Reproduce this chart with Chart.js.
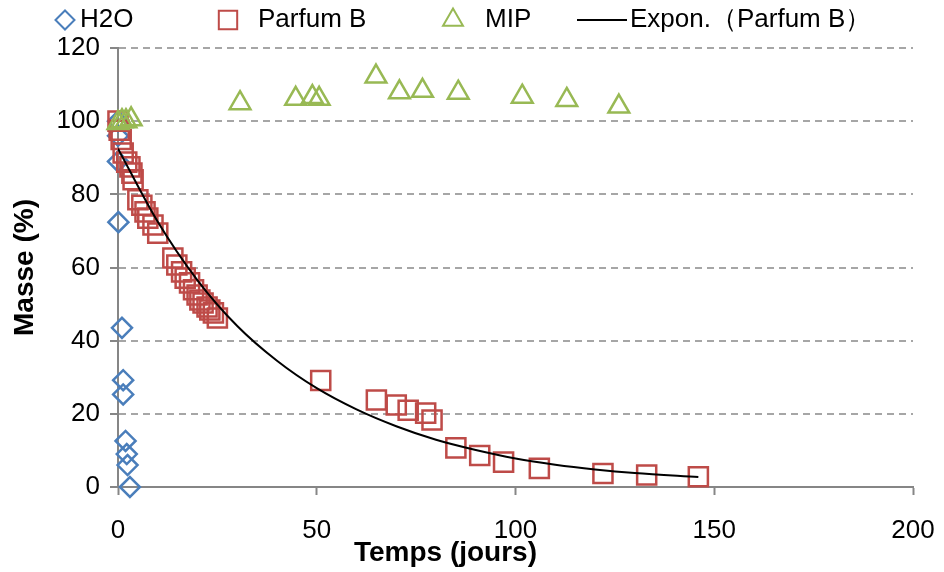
<!DOCTYPE html>
<html>
<head>
<meta charset="utf-8">
<script src="https://cdn.jsdelivr.net/npm/chart.js@4.4.1/dist/chart.umd.min.js"></script>
<style>
  html, body { margin: 0; padding: 0; background: #fff; }
  #wrap { width: 944px; height: 572px; }
</style>
</head>
<body>
<div id="wrap"><canvas id="c" width="944" height="572"></canvas></div>
<script>
// values (days, % of mass)
const h2oX = [0, 0, 0, 0.1, 1, 1.3, 1.3, 1.9, 2.2, 2.4, 3];
const h2oY = [100, 96, 89, 72.4, 43.5, 29.2, 25.3, 12.6, 9.0, 6.0, 0];

const parfumX = [0, 0.3, 0.8, 1.3, 2.2, 3, 3.5, 3.8, 5, 6, 6.8, 7.5, 8.8, 10,
  13.8, 14.8, 16, 16.9, 18, 19, 19.9, 20.6, 21.4, 22.4, 23.1, 24, 25,
  51, 65, 70, 73, 77.4, 79, 85, 91, 97, 106, 122, 133, 146];
const parfumY = [100, 97.5, 95, 91.3, 88.8, 87.5, 85.8, 84, 78.5, 77, 75.2, 73.5, 71.6, 69.4,
  62.6, 60.7, 58.8, 57.1, 55.8, 53.9, 52.5, 51.1, 50.3, 49.2, 48.4, 47.6, 46.2,
  29.1, 23.8, 22.4, 21, 20.2, 18.3, 10.7, 8.6, 6.8, 5.1, 3.7, 3.3, 2.8];

const mipX = [0, 1, 2, 3.3, 30.7, 44.7, 48.9, 50.6, 64.9, 70.8, 76.6, 85.6, 101.7, 112.9, 126];
const mipY = [99.5, 100, 100, 100.5, 104.9, 106.1, 106.6, 106.1, 112.2, 107.9, 108.3, 107.8, 106.7, 105.8, 104];

// exponential trendline of Parfum B, read at a few points
const trendX = [0, 10, 20, 30, 40, 50, 60, 70, 80, 90, 100, 110, 120, 130, 146];
const trendY = [92.5, 72.5, 56.5, 44, 34.5, 27, 21.2, 16.6, 12.9, 10.1, 7.8, 6.1, 4.8, 3.8, 2.7];

const labels = ['H2O', 'Parfum B', 'MIP', 'Expon.（Parfum B）'];
const xTicks = [0, 50, 100, 150, 200];
const yTicks = [0, 20, 40, 60, 80, 100, 120];

const toPoints = (xs, ys) => xs.map((x, i) => ({ x, y: ys[i] }));

const BLUE = '#4A7EBB', RED = '#BE4B48', GREEN = '#98B954';
const GRID = '#a6a6a6', AXIS = '#868686';
const FAMILY = '"Liberation Sans", Arial, sans-serif';
const tickFont = { family: FAMILY, size: 26 };
const titleFont = { family: FAMILY, size: 28, weight: 'bold' };

// legend is drawn by hand so the item spacing follows the original
const legendSlots = [
  { mark: 65, text: 80 },
  { mark: 228, text: 258 },
  { mark: 453, text: 485 },
  { mark: 602, text: 630 }
];

const topLegend = {
  id: 'topLegend',
  afterDraw(chart) {
    const ctx = chart.ctx;
    const y = 20;
    ctx.save();
    legendSlots.forEach((slot, i) => {
      const ds = chart.data.datasets[i];
      ctx.strokeStyle = ds.borderColor;
      ctx.fillStyle = 'rgba(0,0,0,0)';
      ctx.lineWidth = 2;
      if (ds.showLine) {
        ctx.beginPath();
        ctx.moveTo(slot.mark - 25, y);
        ctx.lineTo(slot.mark + 25, y);
        ctx.stroke();
      } else {
        Chart.helpers.drawPoint(ctx, {
          pointStyle: ds.pointStyle, radius: ds.pointRadius - 0.5,
          borderWidth: 2, rotation: 0
        }, slot.mark, y);
      }
      ctx.fillStyle = '#000';
      ctx.font = '26px ' + FAMILY;
      ctx.textBaseline = 'middle';
      ctx.textAlign = 'left';
      ctx.fillText(ds.label, slot.text, y);
    });
    ctx.restore();
  }
};

new Chart(document.getElementById('c'), {
  type: 'scatter',
  data: {
    datasets: [
      {
        label: labels[0], data: toPoints(h2oX, h2oY),
        pointStyle: 'rectRot', pointRadius: 10, pointBorderWidth: 2.5,
        borderColor: BLUE, backgroundColor: 'rgba(0,0,0,0)', clip: false, order: 3
      },
      {
        label: labels[1], data: toPoints(parfumX, parfumY),
        pointStyle: 'rect', pointRadius: 13.5, pointBorderWidth: 2.5,
        borderColor: RED, backgroundColor: 'rgba(0,0,0,0)', clip: false, order: 2
      },
      {
        label: labels[2], data: toPoints(mipX, mipY),
        pointStyle: 'triangle', pointRadius: 12, pointBorderWidth: 2.5,
        borderColor: GREEN, backgroundColor: 'rgba(0,0,0,0)', clip: false, order: 1
      },
      {
        label: labels[3], data: toPoints(trendX, trendY),
        showLine: true, pointRadius: 0, borderWidth: 2, borderColor: '#000',
        cubicInterpolationMode: 'monotone', order: 0
      }
    ]
  },
  options: {
    responsive: false,
    animation: false,
    layout: { padding: { left: 0, right: 31, top: 48, bottom: 0 } },
    plugins: {
      legend: { display: false },
      tooltip: { enabled: false }
    },
    scales: {
      x: {
        type: 'linear', min: 0, max: 200,
        afterBuildTicks: s => { s.ticks = xTicks.map(v => ({ value: v })); },
        ticks: { font: tickFont, color: '#000', padding: 20, maxRotation: 0 },
        grid: { drawOnChartArea: false, tickLength: 8, tickColor: AXIS, tickWidth: 2 },
        border: { color: AXIS, width: 2 },
        // trailing spaces push the centred title left, as in the original
        title: { display: true, text: 'Temps (jours)' + ' '.repeat(18), font: titleFont, color: '#000', padding: { top: 0, bottom: 2 } },
        afterFit: s => { s.height = 85; s.paddingRight = 0; }
      },
      y: {
        min: 0, max: 120,
        afterBuildTicks: s => { s.ticks = yTicks.map(v => ({ value: v })); },
        ticks: { font: tickFont, color: '#000', padding: 10 },
        grid: { color: GRID, lineWidth: 2, tickLength: 8, tickColor: AXIS, tickWidth: 2 },
        border: { color: AXIS, width: 2, dash: [7, 5] },
        title: { display: true, text: 'Masse (%)', font: titleFont, color: '#000', padding: { top: 8, bottom: 0 } },
        afterFit: s => { s.width = 118; }
      }
    }
  },
  plugins: [topLegend]
});
</script>
</body>
</html>
